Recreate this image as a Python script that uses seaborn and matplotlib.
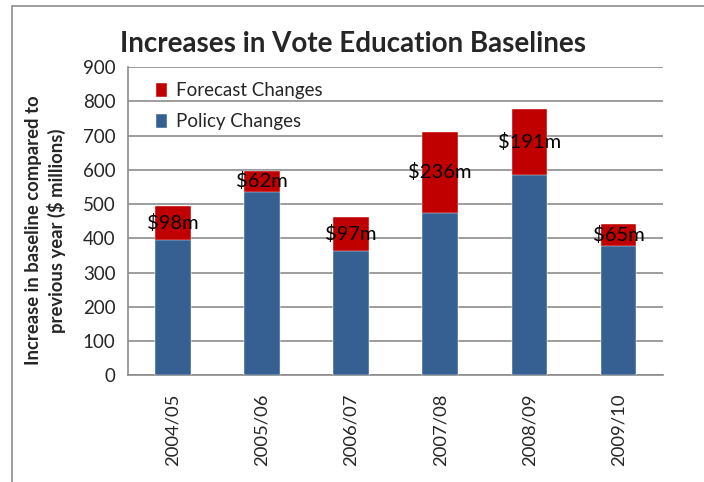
import pandas as pd
import numpy as np
import matplotlib.pyplot as plt
import seaborn as sns
from matplotlib.patches import Rectangle

# values ($ millions)
years = ['2004/05', '2005/06', '2006/07', '2007/08', '2008/09', '2009/10']
policy = [395, 536, 364, 475, 585, 378]
forecast = [98, 62, 97, 236, 191, 65]
labels = ['$98m', '$62m', '$97m', '$236m', '$191m', '$65m']

blue = '#376092'
red = '#C00000'
grid_col = '#8C8C8C'

df = pd.DataFrame({'year': years, 'policy': policy, 'forecast': forecast})
df['total'] = df['policy'] + df['forecast']

sns.set_style('white')
plt.rcParams['font.family'] = ['Lato', 'DejaVu Sans']

fig = plt.figure(figsize=(7.04, 4.82), dpi=100)
ax = fig.add_axes([0.182, 0.221, 0.760, 0.640])

sns.barplot(data=df, x='year', y='total', color=red, width=0.4,
            saturation=1, ax=ax, label='Forecast Changes', zorder=3)
sns.barplot(data=df, x='year', y='policy', color=blue, width=0.4,
            saturation=1, ax=ax, label='Policy Changes', zorder=3)

for bar in ax.patches:
    bar.set_edgecolor('white')
    bar.set_linewidth(0.3)

# labels in the middle of the red segment
for i, (p, f, lab) in enumerate(zip(df['policy'], df['forecast'], labels)):
    ax.text(i, p + f / 2, lab, ha='center', va='center', fontsize=14.5,
            color='black', zorder=5)

ax.set_ylim(0, 900)
ax.set_xlim(-0.5, 5.5)
ax.set_yticks(range(0, 901, 100))
ax.yaxis.grid(True, color=grid_col, linewidth=1.2)
ax.set_axisbelow(True)

for s in ['top', 'right']:
    ax.spines[s].set_visible(False)
for s in ['left', 'bottom']:
    ax.spines[s].set_color(grid_col)
    ax.spines[s].set_linewidth(1.2)

ax.set_xticks(np.arange(-0.5, 6, 1), minor=False)
ax.set_xticklabels([])
ax.set_xticks(range(6), minor=True)
ax.set_xticklabels(years, minor=True, rotation=90, fontsize=13.3)
ax.tick_params(axis='x', which='major', direction='out', length=5,
               color=grid_col, width=1.2)
ax.tick_params(axis='x', which='minor', length=0, pad=13)
ax.tick_params(axis='y', direction='out', length=5, color=grid_col,
               width=1.2, labelsize=13.5, pad=4)

ax.set_xlabel('')
ax.set_ylabel('Increase in baseline compared to\nprevious year ($ millions)',
              fontsize=13.3, fontweight='bold', labelpad=12, linespacing=1.3)
ax.yaxis.label.set_y(0.47)

# legend, reversed so forecast sits on top
h, l = ax.get_legend_handles_labels()
ax.legend(h, l, loc='upper left', bbox_to_anchor=(0.02, 1.005), frameon=False,
          fontsize=13.5, handlelength=0.6, handleheight=0.8, handletextpad=0.5,
          labelspacing=0.75)

fig.suptitle('Increases in Vote Education Baselines', fontsize=20,
             fontweight='bold', x=0.502, y=0.935)

# chart border
fig.add_artist(Rectangle((12 / 704, -0.1), 1.2, 1 - 6 / 482 + 0.1,
                         transform=fig.transFigure, fill=False,
                         edgecolor='#8C8C8C', linewidth=1.2))

fig.savefig('out.png', dpi=100)
